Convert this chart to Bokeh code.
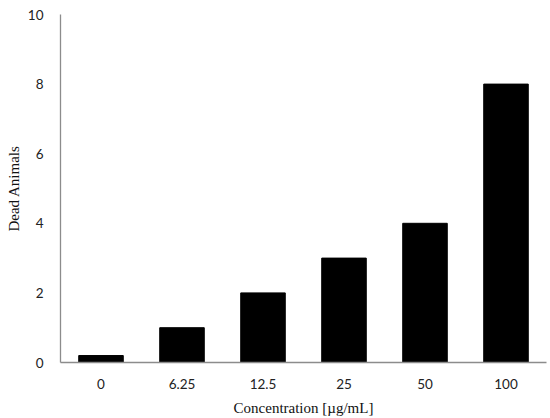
from bokeh.plotting import figure
from bokeh.models import FactorRange, Range1d, FixedTicker
from bokeh.embed import file_html
from bokeh.resources import INLINE

categories = ["0", "6.25", "12.5", "25", "50", "100"]
dead_animals = [0.2, 1, 2, 3, 4, 8]
y_ticks = [0, 2, 4, 6, 8, 10]

p = figure(width=550, height=418, output_backend="svg", toolbar_location=None,
           x_range=FactorRange(*categories, range_padding=0),
           y_range=Range1d(0, 10),
           min_border_left=60, min_border_right=4, min_border_top=14, min_border_bottom=56)
p.vbar(x=categories, top=dead_animals, width=0.55, color="black")

p.outline_line_color = None
p.xgrid.grid_line_color = None
p.ygrid.grid_line_color = None

for ax in (p.xaxis, p.yaxis):
    ax.axis_line_color = "#8c8c8c"
    ax.axis_line_width = 1.3
    ax.major_tick_line_color = None
    ax.minor_tick_line_color = None
    ax.major_label_text_font = "Lato"
    ax.major_label_text_font_size = "13.5px"
    ax.major_label_text_color = "#222222"
    ax.axis_label_text_font = "Liberation Serif"
    ax.axis_label_text_font_style = "normal"
    ax.axis_label_text_font_size = "15px"
    ax.axis_label_text_color = "#111111"

p.yaxis.ticker = FixedTicker(ticks=y_ticks)
p.yaxis.axis_label = "Dead Animals"
p.xaxis.axis_label = "Concentration [\u00b5g/mL]"
p.yaxis.major_label_standoff = 11
p.yaxis.axis_label_standoff = 3
p.xaxis.major_label_standoff = 10
p.xaxis.axis_label_standoff = 8

open("out.html", "w").write(file_html(p, INLINE))
